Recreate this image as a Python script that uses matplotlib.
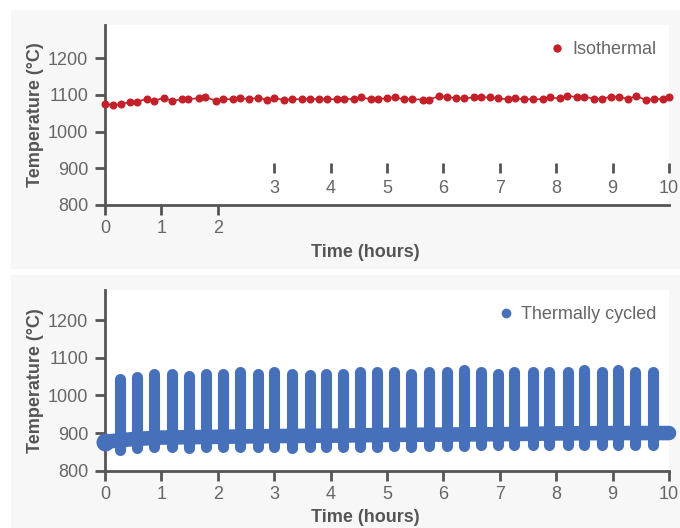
import matplotlib
matplotlib.use("Agg")
import matplotlib.pyplot as plt
from matplotlib.lines import Line2D
from matplotlib.patches import Rectangle

plt.rcParams['font.family'] = ['Liberation Sans', 'DejaVu Sans']

# ---------------- data ----------------
iso_t = [0.0, 0.15, 0.28, 0.44, 0.56, 0.74, 0.87, 1.05, 1.19, 1.36, 1.48, 1.66, 1.78, 1.97,
         2.09, 2.27, 2.40, 2.56, 2.71, 2.87, 3.00, 3.18, 3.32, 3.49, 3.63, 3.79, 3.94, 4.12,
         4.23, 4.41, 4.54, 4.71, 4.84, 5.00, 5.14, 5.30, 5.45, 5.63, 5.74, 5.92, 6.06, 6.23,
         6.36, 6.54, 6.67, 6.83, 6.97, 7.14, 7.27, 7.43, 7.58, 7.76, 7.89, 8.07, 8.20, 8.37,
         8.50, 8.67, 8.81, 8.97, 9.11, 9.28, 9.41, 9.59, 9.73, 9.89, 10.0]
iso_v = [1075, 1072, 1075, 1080, 1081, 1089, 1084, 1092, 1083, 1088, 1088, 1091, 1093, 1084,
         1088, 1088, 1091, 1088, 1092, 1086, 1091, 1086, 1088, 1088, 1089, 1088, 1088, 1088,
         1088, 1089, 1093, 1088, 1088, 1091, 1093, 1088, 1088, 1087, 1087, 1096, 1095, 1090,
         1090, 1093, 1093, 1093, 1090, 1088, 1090, 1088, 1088, 1088, 1093, 1090, 1098, 1093,
         1095, 1089, 1089, 1095, 1095, 1088, 1097, 1086, 1088, 1088, 1095]

cyc_spike_t = [0.27, 0.57, 0.86, 1.18, 1.49, 1.79, 2.10, 2.40, 2.71, 3.00, 3.32, 3.63, 3.92,
               4.22, 4.53, 4.83, 5.13, 5.43, 5.75, 6.06, 6.36, 6.66, 6.96, 7.26, 7.58, 7.88,
               8.21, 8.49, 8.81, 9.09, 9.39, 9.71]
cyc_peak = [1043, 1048, 1057, 1057, 1052, 1057, 1057, 1063, 1057, 1063, 1057, 1054, 1057,
            1057, 1061, 1061, 1061, 1057, 1061, 1063, 1067, 1063, 1057, 1063, 1063, 1063,
            1063, 1067, 1063, 1067, 1063, 1063]
cyc_dip = [856, 860, 862, 862, 860, 862, 862, 862, 862, 862, 860, 862, 862,
           864, 864, 864, 866, 864, 866, 866, 866, 868, 868, 868, 868, 868,
           868, 868, 868, 868, 868, 868]
cyc_base_t = [0, 0.5, 1, 2, 3, 4, 5, 6, 7, 8, 9, 10]
cyc_base_v = [877, 884, 888, 890, 892, 893, 895, 896, 897, 899, 900, 900]

yticks = [800, 900, 1000, 1100, 1200]
xticks_all = list(range(0, 11))
xticks_top_low = [0, 1, 2]
xticks_top_high = [3, 4, 5, 6, 7, 8, 9, 10]

RED = '#c4202a'
BLUE = '#4670b9'
SPINE = '#555555'
TXT = '#666666'
LAB = '#555555'
BG = '#f7f7f7'

W, H = 680, 528
fig = plt.figure(figsize=(W / 100, H / 100), dpi=100)
fig.patch.set_facecolor('white')

# grey panels
for (x0, y0, x1, y1) in [(11, 10, 680, 269), (11, 275, 680, 528)]:
    fig.patches.append(Rectangle((x0 / W, 1 - y1 / H), (x1 - x0) / W, (y1 - y0) / H,
                                 transform=fig.transFigure, facecolor=BG, edgecolor='none',
                                 zorder=-10))

def axpos(l, t, r, b):
    return [l / W, 1 - b / H, (r - l) / W, (b - t) / H]

ax1 = fig.add_axes(axpos(105, 25, 669, 205))
ax2 = fig.add_axes(axpos(105, 290, 669, 470.7))

def style(ax, ymax):
    ax.set_facecolor('white')
    ax.set_xlim(0, 10)
    ax.set_ylim(800, ymax)
    for s in ['top', 'right']:
        ax.spines[s].set_visible(False)
    for s in ['left', 'bottom']:
        ax.spines[s].set_color(SPINE)
        ax.spines[s].set_linewidth(2)
    ax.set_yticks(yticks)
    ax.tick_params(axis='both', colors=SPINE, labelcolor=TXT, labelsize=13,
                   length=7, width=2, direction='out')
    ax.tick_params(axis='y', pad=5)
    ax.tick_params(axis='x', pad=4)
    ax.set_ylabel('Temperature (°C)', fontsize=13, fontweight='bold', color=LAB)
    ax.yaxis.set_label_coords(-0.108, 0.5)
    ax.set_xlabel('Time (hours)', fontsize=13, fontweight='bold', color=LAB)

style(ax1, 1290)
style(ax2, 1280)
ax1.xaxis.set_label_coords(0.461, -0.215)
ax2.xaxis.set_label_coords(0.461, -0.21)

# top panel: split tick axis
ax1.set_xticks(xticks_top_low)
sec = ax1.secondary_xaxis(0.233)
sec.set_xticks(xticks_top_high)
sec.spines['bottom'].set_visible(False)
sec.spines['top'].set_visible(False)
sec.tick_params(axis='x', colors=SPINE, labelcolor=TXT, labelsize=13,
                length=7, width=2, direction='out', pad=5)

ax2.set_xticks(xticks_all)

# isothermal
ax1.plot(iso_t, iso_v, color=RED, lw=1.2, marker='o', markersize=5.8,
         markeredgewidth=0, zorder=3, clip_on=False)

# thermally cycled
ax2.plot(cyc_base_t, cyc_base_v, color=BLUE, lw=10.5, solid_capstyle='round',
         solid_joinstyle='round', zorder=3, clip_on=False)
ax2.plot([cyc_base_t[0]], [cyc_base_v[0]], 'o', color=BLUE, markersize=13,
         markeredgewidth=0, zorder=3, clip_on=False)
ax2.vlines(cyc_spike_t, cyc_dip, cyc_peak, color=BLUE, lw=8.0,
           capstyle='round', zorder=3)

# legends
h1 = Line2D([], [], ls='none', marker='o', color=RED, markersize=6, markeredgewidth=0)
h2 = Line2D([], [], ls='none', marker='o', color=BLUE, markersize=7, markeredgewidth=0)
for ax, h, lab in [(ax1, h1, 'Isothermal'), (ax2, h2, 'Thermally cycled')]:
    leg = ax.legend([h], [lab], loc='upper right', bbox_to_anchor=(1.007, 1.0),
                    frameon=False, fontsize=13, labelcolor=TXT, handlelength=0.8,
                    handletextpad=0.45, borderaxespad=0.5)

fig.savefig('out.png', dpi=100, facecolor=fig.get_facecolor())
